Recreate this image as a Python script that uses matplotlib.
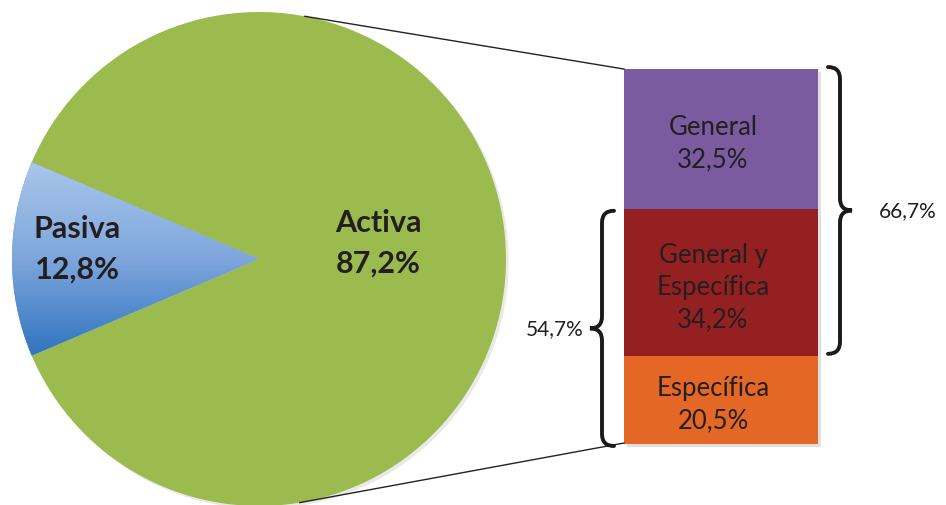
import numpy as np
import matplotlib
matplotlib.use("Agg")
import matplotlib.pyplot as plt
from matplotlib.path import Path
from matplotlib.patches import PathPatch
from matplotlib.colors import LinearSegmentedColormap
import matplotlib.patheffects as pe

# data
pie_labels = ["Activa", "Pasiva"]
pie_values = [87.2, 12.8]
bar_labels = ["Específica", "General y\nEspecífica", "General"]   # bottom -> top
bar_values = [20.5, 34.2, 32.5]
bar_pcts = ["20,5%", "34,2%", "32,5%"]
brace_right = "66,7%"   # General + General y Específica
brace_left = "54,7%"    # General y Específica + Específica

green = "#9bbb4e"
purple = "#7b5b9f"
darkred = "#942022"
orange = "#e46726"
txt = "#231f20"
fam = ["Lato", "DejaVu Sans"]

W, H = 946, 506
fig = plt.figure(figsize=(W / 100, H / 100), dpi=100)
ax = fig.add_axes([0, 0, 1, 1])

# pie, Pasiva centred on the left
cx, cy, R = 259, 246, 247
start = 180 + pie_values[1] / 100 * 180
wedges, _ = ax.pie(pie_values, colors=[green, "#6f9bd6"], startangle=start,
                   center=(cx, cy), radius=R, counterclock=True,
                   wedgeprops=dict(linewidth=0))
wedges[0].set_path_effects([pe.SimplePatchShadow(offset=(2, -2), alpha=0.1),
                            pe.Normal()])

# gradient on Pasiva
cmap = LinearSegmentedColormap.from_list("pas", ["#a9c6ea", "#7ea6dc", "#2f74bf"])
grad = np.linspace(0, 1, 256).reshape(-1, 1)
half = R * np.sin(np.radians(pie_values[1] / 100 * 180))
im = ax.imshow(grad, cmap=cmap, aspect="auto", origin="upper",
               extent=(cx - R, cx, cy - half, cy + half), zorder=2)
im.set_clip_path(wedges[1])

ax.text(cx + 119, cy + 17, pie_labels[0] + "\n" + "87,2%", ha="center", va="center",
        fontsize=22, fontweight="bold", color=txt, family=fam, linespacing=1.55, zorder=5)
ax.text(cx - 182, cy + 11, pie_labels[1] + "\n" + "12,8%", ha="center", va="center",
        fontsize=22, fontweight="bold", color=txt, family=fam, linespacing=1.55, zorder=5)

# stacked bar
k = 4.30          # px per percent
bx, bw, b0 = 721, 194, 61
vals = np.array(bar_values) * k
bottoms = b0 + np.concatenate([[0], np.cumsum(vals)[:-1]])
cols = [orange, darkred, purple]
# soft shadow behind the whole column
ax.bar(bx + 3, vals.sum(), width=bw, bottom=b0 - 3, color="#000000", alpha=0.12,
       linewidth=0, zorder=2.5)
ax.bar([bx] * 3, vals, width=bw, bottom=bottoms, color=cols, linewidth=0, zorder=3)
for lab, p, y0, h in zip(bar_labels, bar_pcts, bottoms, vals):
    ax.text(bx - 8, y0 + h / 2 - 4, lab + "\n" + p, ha="center", va="center",
            fontsize=18.5, color=txt, family=fam, linespacing=1.35, zorder=5)

# connector lines from pie to bar
top = b0 + vals.sum()
a1, a2 = np.radians(79.3), np.radians(-80.5)
ax.plot([cx + R * np.cos(a1), bx - bw / 2], [cy + R * np.sin(a1), top],
        color="#222222", lw=1.0, zorder=4)
ax.plot([cx + R * np.cos(a2), bx - bw / 2], [cy + R * np.sin(a2), b0 + 1],
        color="#222222", lw=1.0, zorder=4)


def brace(x, ya, yb, w, r=12):
    h = w / 2
    ym = (ya + yb) / 2
    verts = [(x, yb), (x + h, yb), (x + h, yb - r),
             (x + h, ym + r), (x + h, ym), (x + w, ym),
             (x + h, ym), (x + h, ym - r),
             (x + h, ya + r), (x + h, ya), (x, ya)]
    codes = [Path.MOVETO, Path.CURVE3, Path.CURVE3,
             Path.LINETO, Path.CURVE3, Path.CURVE3,
             Path.CURVE3, Path.CURVE3,
             Path.LINETO, Path.CURVE3, Path.CURVE3]
    ax.add_patch(PathPatch(Path(verts, codes), fill=False, lw=2.8,
                           edgecolor="#1a1a1a", capstyle="round", zorder=6))
    return ym


ym = brace(828, bottoms[1] + 2, top + 2, 24)
ax.text(879, ym, brace_right, ha="left", va="center", fontsize=15, color=txt, family=fam)
ym = brace(614, b0 - 2, bottoms[2] - 2, -24)
ax.text(584, ym, brace_left, ha="right", va="center", fontsize=15, color=txt, family=fam)

ax.set_xlim(0, W)
ax.set_ylim(0, H)
ax.set_aspect("equal")
ax.axis("off")
fig.savefig("out.png", dpi=100)
